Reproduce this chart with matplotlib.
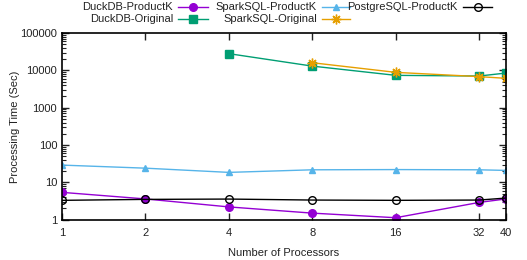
import matplotlib
matplotlib.use("Agg")
import matplotlib.pyplot as plt
from matplotlib.lines import Line2D
from matplotlib.ticker import FixedLocator, NullFormatter, LogLocator

plt.rcParams['font.family'] = ['Liberation Sans', 'DejaVu Sans']
plt.rcParams['font.size'] = 8

# data
procs = [1, 2, 4, 8, 16, 32, 40]
duckdb_productk = [5.4, 3.6, 2.2, 1.5, 1.13, 2.9, 3.6]
sparksql_productk = [29, 24, 18.5, 21.7, 22, 21.7, 20.9]
postgres_productk = [3.3, 3.5, 3.57, 3.36, 3.3, 3.36, 3.8]

procs_duck_orig = [4, 8, 16, 32, 40]
duckdb_original = [28000, 13000, 7350, 7050, 8470]
procs_spark_orig = [8, 16, 32, 40]
sparksql_original = [16000, 8840, 6800, 6110]

xticks = [1, 2, 4, 8, 16, 32, 40]

W, H = 527, 260
fig = plt.figure(figsize=(W / 100, H / 100), dpi=100)
ax = fig.add_axes([0.1176, 0.155, 0.8425, 0.718])

styles = {
    'DuckDB-ProductK': dict(color='#9400d3', marker='o', markersize=5.5),
    'SparkSQL-ProductK': dict(color='#56b4e9', marker='^', markersize=4.5),
    'PostgreSQL-ProductK': dict(color='black', marker='o', markersize=5.5,
                                markerfacecolor='none'),
    'DuckDB-Original': dict(color='#009e73', marker='s', markersize=5.5),
    'SparkSQL-Original': dict(color='#e69f00', marker=(8, 2, 0), markersize=7),
}

ax.plot(procs, duckdb_productk, linewidth=1, **styles['DuckDB-ProductK'])
ax.plot(procs, sparksql_productk, linewidth=1, **styles['SparkSQL-ProductK'])
ax.plot(procs, postgres_productk, linewidth=1, **styles['PostgreSQL-ProductK'])
ax.plot(procs_duck_orig, duckdb_original, linewidth=1, **styles['DuckDB-Original'])
ax.plot(procs_spark_orig, sparksql_original, linewidth=1, **styles['SparkSQL-Original'])

ax.set_xscale('log', base=2)
ax.set_yscale('log')
ax.set_xlim(1, 40)
ax.set_ylim(1, 100000)
ax.xaxis.set_major_locator(FixedLocator(xticks))
ax.xaxis.set_minor_locator(FixedLocator([]))
ax.set_xticklabels([str(t) for t in xticks])
ax.yaxis.set_minor_locator(LogLocator(base=10, subs=range(2, 10), numticks=10))
ax.yaxis.set_minor_formatter(NullFormatter())
ax.set_yticks([1, 10, 100, 1000, 10000, 100000])
ax.set_yticklabels(['1', '10', '100', '1000', '10000', '100000'])

ax.tick_params(which='both', direction='in', top=True, right=True, colors='#222222')
ax.tick_params(which='major', length=5, width=1)
ax.tick_params(which='minor', length=3, width=0.8)
ax.tick_params(axis='x', pad=6)
for s in ax.spines.values():
    s.set_linewidth(1.2)

ax.set_xlabel('Number of Processors', color='#222222', labelpad=7)
ax.set_ylabel('Processing Time (Sec)', color='#222222')
ax.yaxis.set_label_coords(-0.095, 0.5)

# gnuplot-style key: text on the left, sample on the right, equal-width columns
key_rows = [['DuckDB-ProductK', 'SparkSQL-ProductK', 'PostgreSQL-ProductK'],
            ['DuckDB-Original', 'SparkSQL-Original']]
sample_x = [(178, 208), (322, 350), (463, 492)]
row_y = [7, 19]
for r, names in enumerate(key_rows):
    yf = 1 - row_y[r] / H
    for c, name in enumerate(names):
        x0, x1 = sample_x[c]
        fig.text((x0 - 5) / W, yf, name, ha='right', va='center', color='#222222')
        fig.add_artist(Line2D([x0 / W, x1 / W], [yf, yf], transform=fig.transFigure,
                              color=styles[name]['color'], linewidth=1))
        fig.add_artist(Line2D([(x0 + x1) / 2 / W], [yf], transform=fig.transFigure,
                              linestyle='none', **styles[name]))

fig.savefig('out.png', dpi=100)
